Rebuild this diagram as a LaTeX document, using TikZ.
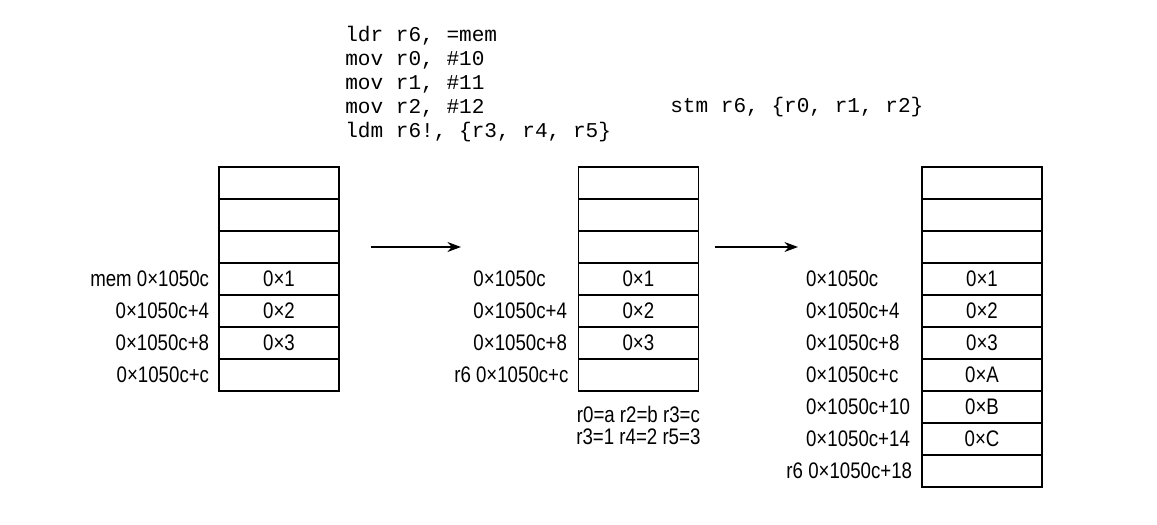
\documentclass[tikz,border=0pt]{standalone}
\usepackage{fontspec}
\setmainfont{Liberation Sans}[FakeStretch=0.83]
\setmonofont{Liberation Mono}
\usetikzlibrary{arrows.meta,positioning}
\newcommand{\memfont}{\fontsize{16}{18}\selectfont}
\newcommand{\codefont}{\fontsize{15}{17.1}\selectfont\ttfamily}
\newcommand{\regfont}{\fontsize{16}{15.6}\selectfont}
\tikzset{
  cell/.style  ={draw, minimum width=3cm, minimum height=8mm, inner sep=0pt,
                 line width=0.9pt, font=\memfont},
  addr/.style  ={inner sep=0pt, font=\memfont},
  addrA/.style ={addr, text width=2.375cm, align=left},
  addrB/.style ={addr, text width=2.65cm, align=left},
  code/.style  ={inner sep=0pt, font=\codefont, align=left},
  regs/.style  ={inner sep=0pt, font=\regfont, align=center},
  flow/.style  ={-{Stealth[length=3.4mm, width=2.5mm]}, line width=0.8pt},
}
\begin{document}
\begin{tikzpicture}
  \useasboundingbox (0,0) rectangle (28.925,-13.1);
  \node[code, anchor=north west] (prog) at (8.625,-0.64)
    {ldr r6, =mem\\mov r0, \#10\\mov r1, \#11\\mov r2, \#12\\ldm r6!, \{r3, r4, r5\}};
  \node[code, anchor=base west] (stm) at (16.75,-2.8) {stm r6, \{r0, r1, r2\}};
  \foreach \i/\v in {0/{},1/{},2/{},3/0×1,4/0×2,5/0×3,6/{}}
    \node[cell] (a\i) at (6.975,{-4.575-0.8*\i}) {\v};
  \foreach \i/\v in {0/{},1/{},2/{},3/0×1,4/0×2,5/0×3,6/{}}
    \node[cell] (b\i) at (15.96,{-4.575-0.8*\i}) {\v};
  \foreach \i/\v in {0/{},1/{},2/{},3/0×1,4/0×2,5/0×3,6/0×A,7/0×B,8/0×C,9/{}}
    \node[cell] (c\i) at (24.55,{-4.575-0.8*\i}) {\v};
  \node[addr, left=2.25mm of a3] (la3) {mem 0×1050c};
  \node[addr, left=2.25mm of a4] (la4) {0×1050c+4};
  \node[addr, left=2.25mm of a5] (la5) {0×1050c+8};
  \node[addr, left=2.25mm of a6] (la6) {0×1050c+c};
  \node[addrA, left=2.25mm of b3] (lb3) {0×1050c};
  \node[addrA, left=2.25mm of b4] (lb4) {0×1050c+4};
  \node[addrA, left=2.25mm of b5] (lb5) {0×1050c+8};
  \node[addr, left=2.25mm of b6] (lb6) {r6 0×1050c+c};
  \node[addrB, left=2.25mm of c3] (lc3) {0×1050c};
  \node[addrB, left=2.25mm of c4] (lc4) {0×1050c+4};
  \node[addrB, left=2.25mm of c5] (lc5) {0×1050c+8};
  \node[addrB, left=2.25mm of c6] (lc6) {0×1050c+c};
  \node[addrB, left=2.25mm of c7] (lc7) {0×1050c+10};
  \node[addrB, left=2.25mm of c8] (lc8) {0×1050c+14};
  \node[addr, left=2.25mm of c9] (lc9) {r6 0×1050c+18};
  \node[regs, below=3.5mm of b6] (regs) {r0=a r2=b r3=c\\r3=1 r4=2 r5=3};
  \coordinate (f1s) at (9.275,-6.175);
  \coordinate (f1e) at (11.525,-6.175);
  \coordinate (f2s) at (17.875,-6.175);
  \coordinate (f2e) at (19.95,-6.175);
  \draw[flow] (f1s) -- (f1e);
  \draw[flow] (f2s) -- (f2e);
\end{tikzpicture}
\end{document}
